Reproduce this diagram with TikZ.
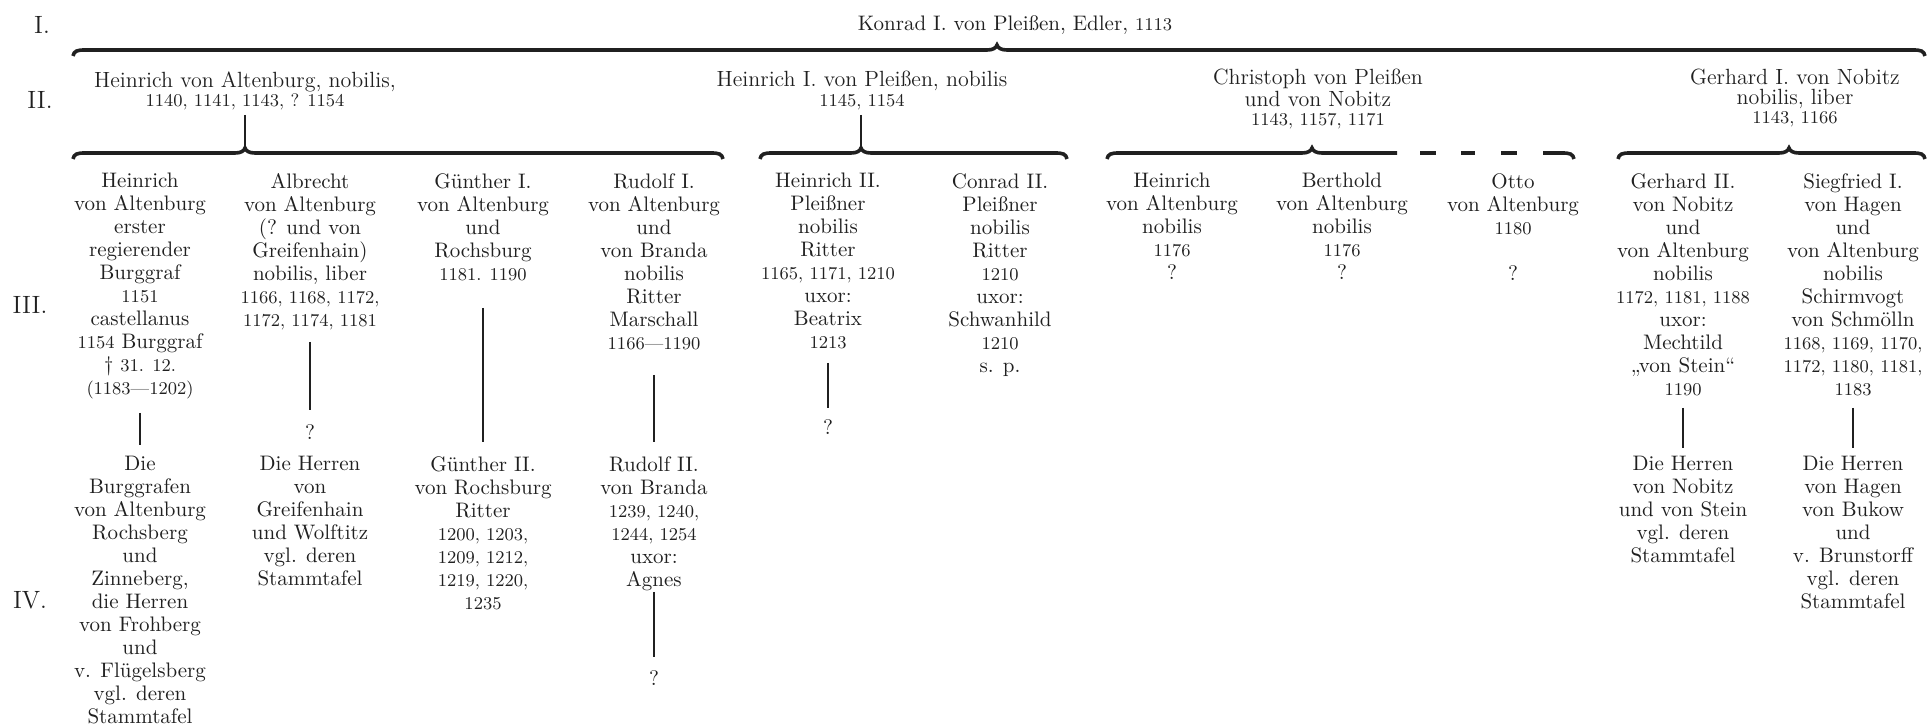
\documentclass[tikz,border=0pt]{standalone}
\usepackage{fontspec}
\usetikzlibrary{calc}
\definecolor{ink}{RGB}{32,32,32}
\newcommand{\D}[1]{{\fontsize{9}{11.5}\selectfont #1}}
\newcommand{\stbrace}[4]{% x0, peak, x1, y
  \draw[bracestyle] ({#1},{#4+6}) .. controls ({#1+1},{#4+1}) and ({#1+4},{#4}) .. ({#1+12},{#4})
    -- ({#2-10},{#4}) .. controls ({#2-4},{#4}) and ({#2-1},{#4-2}) .. ({#2},{#4-5})
    .. controls ({#2+1},{#4-2}) and ({#2+4},{#4}) .. ({#2+10},{#4})
    -- ({#3-12},{#4}) .. controls ({#3-4},{#4}) and ({#3-1},{#4+1}) .. ({#3},{#4+6});}
\begin{document}
\begin{tikzpicture}[x=0.5pt,y=-0.5pt,
  every node/.style={inner sep=0pt, text=ink},
  lbl/.style={font=\fontsize{12.5}{14}\selectfont},
  gentwo/.style={anchor=north, align=center, font=\fontsize{11}{9.75}\selectfont},
  genthree/.style={anchor=north, align=center, font=\fontsize{10.5}{11.5}\selectfont},
  qm/.style={font=\fontsize{10.5}{11.5}\selectfont},
  vline/.style={draw=ink, line width=1.3pt},
  bracestyle/.style={draw=ink, line width=1.8pt, line cap=butt, line join=miter}]
\useasboundingbox (0,0) rectangle (1929,726);

% generation labels
\node[lbl] (L1) at (42,25) {I.};
\node[lbl] (L2) at (40,100) {II.};
\node[lbl] (L3) at (30,305) {III.};
\node[lbl] (L4) at (30,600) {IV.};

% generation I
\node[font=\fontsize{10.5}{12}\selectfont] (konrad) at (1015,25) {Konrad I. von Pleißen, Edler, \D{1113}};
\stbrace{73}{997}{1925}{50}

% generation II
\node[gentwo] (h2a) at (245,71) {Heinrich von Altenburg, nobilis,\\ \D{1140, 1141, 1143, ? 1154}};
\node[gentwo] (h2b) at (862,71) {Heinrich I. von Pleißen, nobilis\\ \D{1145, 1154}};
\node[gentwo] (h2c) at (1318,69) {Christoph von Pleißen\\ und von Nobitz\\ \D{1143, 1157, 1171}};
\node[gentwo] (h2d) at (1795,69) {Gerhard I. von Nobitz\\ nobilis, liber\\ \D{1143, 1166}};

\coordinate (a2a) at (245,115); \coordinate (b2a) at (245,148);
\coordinate (a2b) at (861,115); \coordinate (b2b) at (861,148);
\draw[vline] (a2a) -- (b2a);
\draw[vline] (a2b) -- (b2b);

% braces over generation III
\stbrace{73}{245}{723}{153}
\stbrace{760}{861}{1067}{153}
\draw[bracestyle] (1107,159) .. controls (1108,154) and (1111,153) .. (1119,153)
  -- (1302,153) .. controls (1308,153) and (1311,151) .. (1312,148)
  .. controls (1313,151) and (1316,153) .. (1322,153) -- (1397,153);
\draw[bracestyle] (1420,153) -- (1436,153);
\draw[bracestyle] (1461,153) -- (1475,153);
\draw[bracestyle] (1501,153) -- (1517,153);
\draw[bracestyle] (1543,153) -- (1562,153) .. controls (1570,153) and (1573,154) .. (1574,159);
\stbrace{1618}{1789}{1925}{153}

% generation III
\node[genthree] (c31) at (140,173) {Heinrich\\ von Altenburg\\ erster\\ regierender\\ Burggraf\\ \D{1151}\\ castellanus\\ \D{1154} Burggraf\\ † \D{31. 12.}\\ \D{(1183—1202)}};
\node[genthree] (c32) at (310,173) {Albrecht\\ von Altenburg\\ (? und von\\ Greifenhain)\\ nobilis, liber\\ \D{1166, 1168, 1172,}\\ \D{1172, 1174, 1181}};
\node[genthree] (c33) at (483,173) {Günther I.\\ von Altenburg\\ und\\ Rochsburg\\ \D{1181. 1190}};
\node[genthree] (c34) at (654,173) {Rudolf I.\\ von Altenburg\\ und\\ von Branda\\ nobilis\\ Ritter\\ Marschall\\ \D{1166—1190}};
\node[genthree] (c35) at (828,173) {Heinrich II.\\ Pleißner\\ nobilis\\ Ritter\\ \D{1165, 1171, 1210}\\ uxor:\\ Beatrix\\ \D{1213}};
\node[genthree] (c36) at (1000,173) {Conrad II.\\ Pleißner\\ nobilis\\ Ritter\\ \D{1210}\\ uxor:\\ Schwanhild\\ \D{1210}\\ s. p.};
\node[genthree] (c37) at (1172,173) {Heinrich\\ von Altenburg\\ nobilis\\ \D{1176}\\ ?};
\node[genthree] (c38) at (1342,173) {Berthold\\ von Altenburg\\ nobilis\\ \D{1176}\\ ?};
\node[genthree] (c39) at (1513,173) {Otto\\ von Altenburg\\ \D{1180}\\ \mbox{}\\ ?};
\node[genthree] (c310) at (1683,173) {Gerhard II.\\ von Nobitz\\ und\\ von Altenburg\\ nobilis\\ \D{1172, 1181, 1188}\\ uxor:\\ Mechtild\\ „von Stein“\\ \D{1190}};
\node[genthree] (c311) at (1853,173) {Siegfried I.\\ von Hagen\\ und\\ von Altenburg\\ nobilis\\ Schirmvogt\\ von Schmölln\\ \D{1168, 1169, 1170,}\\ \D{1172, 1180, 1181,}\\ \D{1183}};

\node[qm] (q32) at (310,432) {?};
\node[qm] (q35) at (828,427) {?};

% generation IV
\node[genthree] (c41) at (140,456) {Die\\ Burggrafen\\ von Altenburg\\ Rochsberg\\ und\\ Zinneberg,\\ die Herren\\ von Frohberg\\ und\\ v. Flügelsberg\\ vgl. deren\\ Stammtafel};
\node[genthree] (c42) at (310,456) {Die Herren\\ von\\ Greifenhain\\ und Wolftitz\\ vgl. deren\\ Stammtafel};
\node[genthree] (c43) at (483,456) {Günther II.\\ von Rochsburg\\ Ritter\\ \D{1200, 1203,}\\ \D{1209, 1212,}\\ \D{1219, 1220,}\\ \D{1235}};
\node[genthree] (c44) at (654,456) {Rudolf II.\\ von Branda\\ \D{1239, 1240,}\\ \D{1244, 1254}\\ uxor:\\ Agnes};
\node[genthree] (c410) at (1683,456) {Die Herren\\ von Nobitz\\ und von Stein\\ vgl. deren\\ Stammtafel};
\node[genthree] (c411) at (1853,456) {Die Herren\\ von Hagen\\ von Bukow\\ und\\ v. Brunstorff\\ vgl. deren\\ Stammtafel};
\node[qm] (q44) at (654,678) {?};

% descent lines
\coordinate (a31) at (140,413);  \coordinate (b31) at (140,445);
\coordinate (a32) at (310,342);  \coordinate (b32) at (310,410);
\coordinate (a33) at (483,308);  \coordinate (b33) at (483,442);
\coordinate (a34) at (654,375);  \coordinate (b34) at (654,442);
\coordinate (a35) at (828,363);  \coordinate (b35) at (828,408);
\coordinate (a310) at (1683,408); \coordinate (b310) at (1683,448);
\coordinate (a311) at (1853,408); \coordinate (b311) at (1853,448);
\coordinate (a44) at (654,592);  \coordinate (b44) at (654,657);
\foreach \n in {31,32,33,34,35,310,311,44} {\draw[vline] (a\n) -- (b\n);}
\end{tikzpicture}
\end{document}
